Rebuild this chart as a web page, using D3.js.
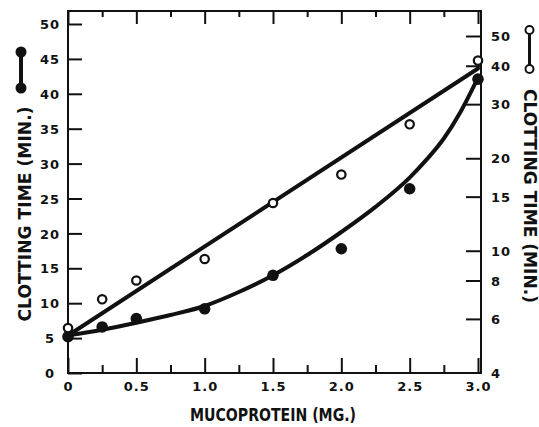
<!DOCTYPE html>
<html>
<head>
<meta charset="utf-8">
<script src="https://cdn.jsdelivr.net/npm/d3@7"></script>
<style>
  body { margin: 0; background: #fff; }
  svg { display: block; }
  text { font-family: "DejaVu Sans", sans-serif; font-weight: bold; fill: #111; }
</style>
</head>
<body>
<div id="chart"></div>
<script>
// axis ticks
const xMajor = [0, 0.5, 1.0, 1.5, 2.0, 2.5, 3.0];
const xMinor = [0.25, 0.75, 1.25, 1.75, 2.25, 2.75];
const leftTicks = [0, 5, 10, 15, 20, 25, 30, 35, 40, 45, 50];
const rightTicks = [4, 6, 8, 10, 15, 20, 30, 40, 50];

// measured points
const dose = [0, 0.25, 0.5, 1.0, 1.5, 2.0, 2.5, 3.0];
const filledTime = [5.2, 6.6, 7.8, 9.2, 14.0, 17.8, 26.4, 42.1]; // left scale
const openTime = [5.6, 6.95, 8.0, 9.4, 14.3, 17.7, 25.8, 41.6];  // right (log) scale

// hand drawn fitted lines
const curveDose = [0, 0.25, 0.5, 0.75, 1.0, 1.25, 1.5, 1.75, 2.0, 2.25, 2.5, 2.625, 2.75, 2.875, 3.0];
const curveTime = [5.4, 6.2, 7.2, 8.3, 9.6, 11.6, 14.0, 16.9, 20.2, 23.8, 28.0, 30.6, 33.6, 37.5, 42.3];
const lineDose = [0, 3.0];
const lineTime = [5.3, 39.2];

const W = 539, H = 427;
const frame = { left: 68, right: 481, top: 11, bottom: 373 };

const svg = d3.select("#chart").append("svg")
  .attr("width", W)
  .attr("height", H);

const x = d3.scaleLinear().domain([0, 3]).range([68, 478]);
const yL = d3.scaleLinear().domain([0, 50]).range([373, 24]);
const yR = d3.scaleLog().domain([4, 50]).range([373, 36]);

const ink = "#111";

// frame
svg.append("rect")
  .attr("x", frame.left)
  .attr("y", frame.top)
  .attr("width", frame.right - frame.left)
  .attr("height", frame.bottom - frame.top)
  .attr("fill", "none")
  .attr("stroke", ink)
  .attr("stroke-width", 2);

function styleAxis(g) {
  g.select(".domain").remove();
  g.selectAll("line").attr("stroke", ink).attr("stroke-width", 2);
  g.selectAll("text").style("font-size", "13px").attr("letter-spacing", 1);
}

// left axis
svg.append("g")
  .attr("transform", `translate(${frame.left},0)`)
  .call(d3.axisLeft(yL).tickValues(leftTicks).tickSizeInner(-14).tickSizeOuter(0))
  .call(styleAxis)
  .call(g => g.selectAll("text")
    .attr("x", 50 - frame.left)
    .attr("dy", "0.36em")
    .style("text-anchor", "middle"));

// right axis (log)
svg.append("g")
  .attr("transform", `translate(${frame.right},0)`)
  .call(d3.axisRight(yR).tickValues(rightTicks).tickFormat(d3.format("d")).tickSizeInner(-15).tickSizeOuter(0))
  .call(styleAxis)
  .call(g => g.selectAll("text").attr("x", 10).attr("dy", "0.36em").style("text-anchor", "start"))
  .call(g => g.selectAll(".tick").filter(d => d === 4).select("line").remove());

// bottom axis
svg.append("g")
  .attr("transform", `translate(0,${frame.bottom})`)
  .call(d3.axisBottom(x).tickValues(xMajor).tickFormat(d => d === 0 ? "0" : d3.format(".1f")(d)).tickSizeInner(-15).tickSizeOuter(0))
  .call(styleAxis)
  .call(g => g.selectAll("text").attr("y", 18).attr("dy", 0));

svg.append("g")
  .attr("transform", `translate(0,${frame.bottom})`)
  .call(d3.axisBottom(x).tickValues(xMinor).tickFormat("").tickSizeInner(-8).tickSizeOuter(0))
  .call(styleAxis);

// top ticks
svg.append("g")
  .attr("transform", `translate(0,${frame.top})`)
  .call(d3.axisTop(x).tickValues(xMajor).tickFormat("").tickSizeInner(-13).tickSizeOuter(0))
  .call(styleAxis);

svg.append("g")
  .attr("transform", `translate(0,${frame.top})`)
  .call(d3.axisTop(x).tickValues(xMinor).tickFormat("").tickSizeInner(-6).tickSizeOuter(0))
  .call(styleAxis);

// fitted lines
const curveData = curveDose.map((d, i) => ({ x: d, y: curveTime[i] }));
const lineData = lineDose.map((d, i) => ({ x: d, y: lineTime[i] }));

svg.append("path")
  .datum(curveData)
  .attr("fill", "none")
  .attr("stroke", ink)
  .attr("stroke-width", 4)
  .attr("stroke-linecap", "round")
  .attr("d", d3.line().curve(d3.curveMonotoneX).x(d => x(d.x)).y(d => yL(d.y)));

svg.append("path")
  .datum(lineData)
  .attr("fill", "none")
  .attr("stroke", ink)
  .attr("stroke-width", 4)
  .attr("stroke-linecap", "round")
  .attr("d", d3.line().x(d => x(d.x)).y(d => yR(d.y)));

// points
const pts = dose.map((d, i) => ({ x: d, filled: filledTime[i], open: openTime[i] }));

svg.selectAll(".dot-open")
  .data(pts)
  .enter()
  .append("circle")
  .attr("class", "dot-open")
  .attr("cx", d => x(d.x))
  .attr("cy", d => yR(d.open))
  .attr("r", 4.2)
  .attr("fill", "#fff")
  .attr("stroke", ink)
  .attr("stroke-width", 2.2);

svg.selectAll(".dot-filled")
  .data(pts)
  .enter()
  .append("circle")
  .attr("class", "dot-filled")
  .attr("cx", d => x(d.x))
  .attr("cy", d => yL(d.filled))
  .attr("r", 5.8)
  .attr("fill", ink);

// axis titles
svg.append("text")
  .attr("transform", "translate(24,214) rotate(-90)")
  .attr("text-anchor", "middle")
  .attr("dominant-baseline", "central")
  .attr("textLength", 215)
  .attr("lengthAdjust", "spacingAndGlyphs")
  .style("font-size", "18px")
  .text("CLOTTING TIME (MIN.)");

svg.append("text")
  .attr("transform", "translate(530,196) rotate(90)")
  .attr("text-anchor", "middle")
  .attr("dominant-baseline", "central")
  .attr("textLength", 214)
  .attr("lengthAdjust", "spacingAndGlyphs")
  .style("font-size", "18px")
  .text("CLOTTING TIME (MIN.)");

svg.append("text")
  .attr("x", 273)
  .attr("y", 421)
  .attr("text-anchor", "middle")
  .attr("textLength", 166)
  .attr("lengthAdjust", "spacingAndGlyphs")
  .style("font-size", "18px")
  .text("MUCOPROTEIN (MG.)");

// legend keys
const keyL = svg.append("g");
keyL.append("line")
  .attr("x1", 21).attr("x2", 21).attr("y1", 52).attr("y2", 88)
  .attr("stroke", ink).attr("stroke-width", 4);
keyL.selectAll("circle").data([52, 88]).enter().append("circle")
  .attr("cx", 21).attr("cy", d => d).attr("r", 5.5).attr("fill", ink);

const keyR = svg.append("g");
keyR.append("line")
  .attr("x1", 529.5).attr("x2", 529.5).attr("y1", 30).attr("y2", 69)
  .attr("stroke", ink).attr("stroke-width", 3);
keyR.selectAll("circle").data([30, 69]).enter().append("circle")
  .attr("cx", 529.5).attr("cy", d => d).attr("r", 4)
  .attr("fill", "#fff").attr("stroke", ink).attr("stroke-width", 2);
</script>
</body>
</html>
